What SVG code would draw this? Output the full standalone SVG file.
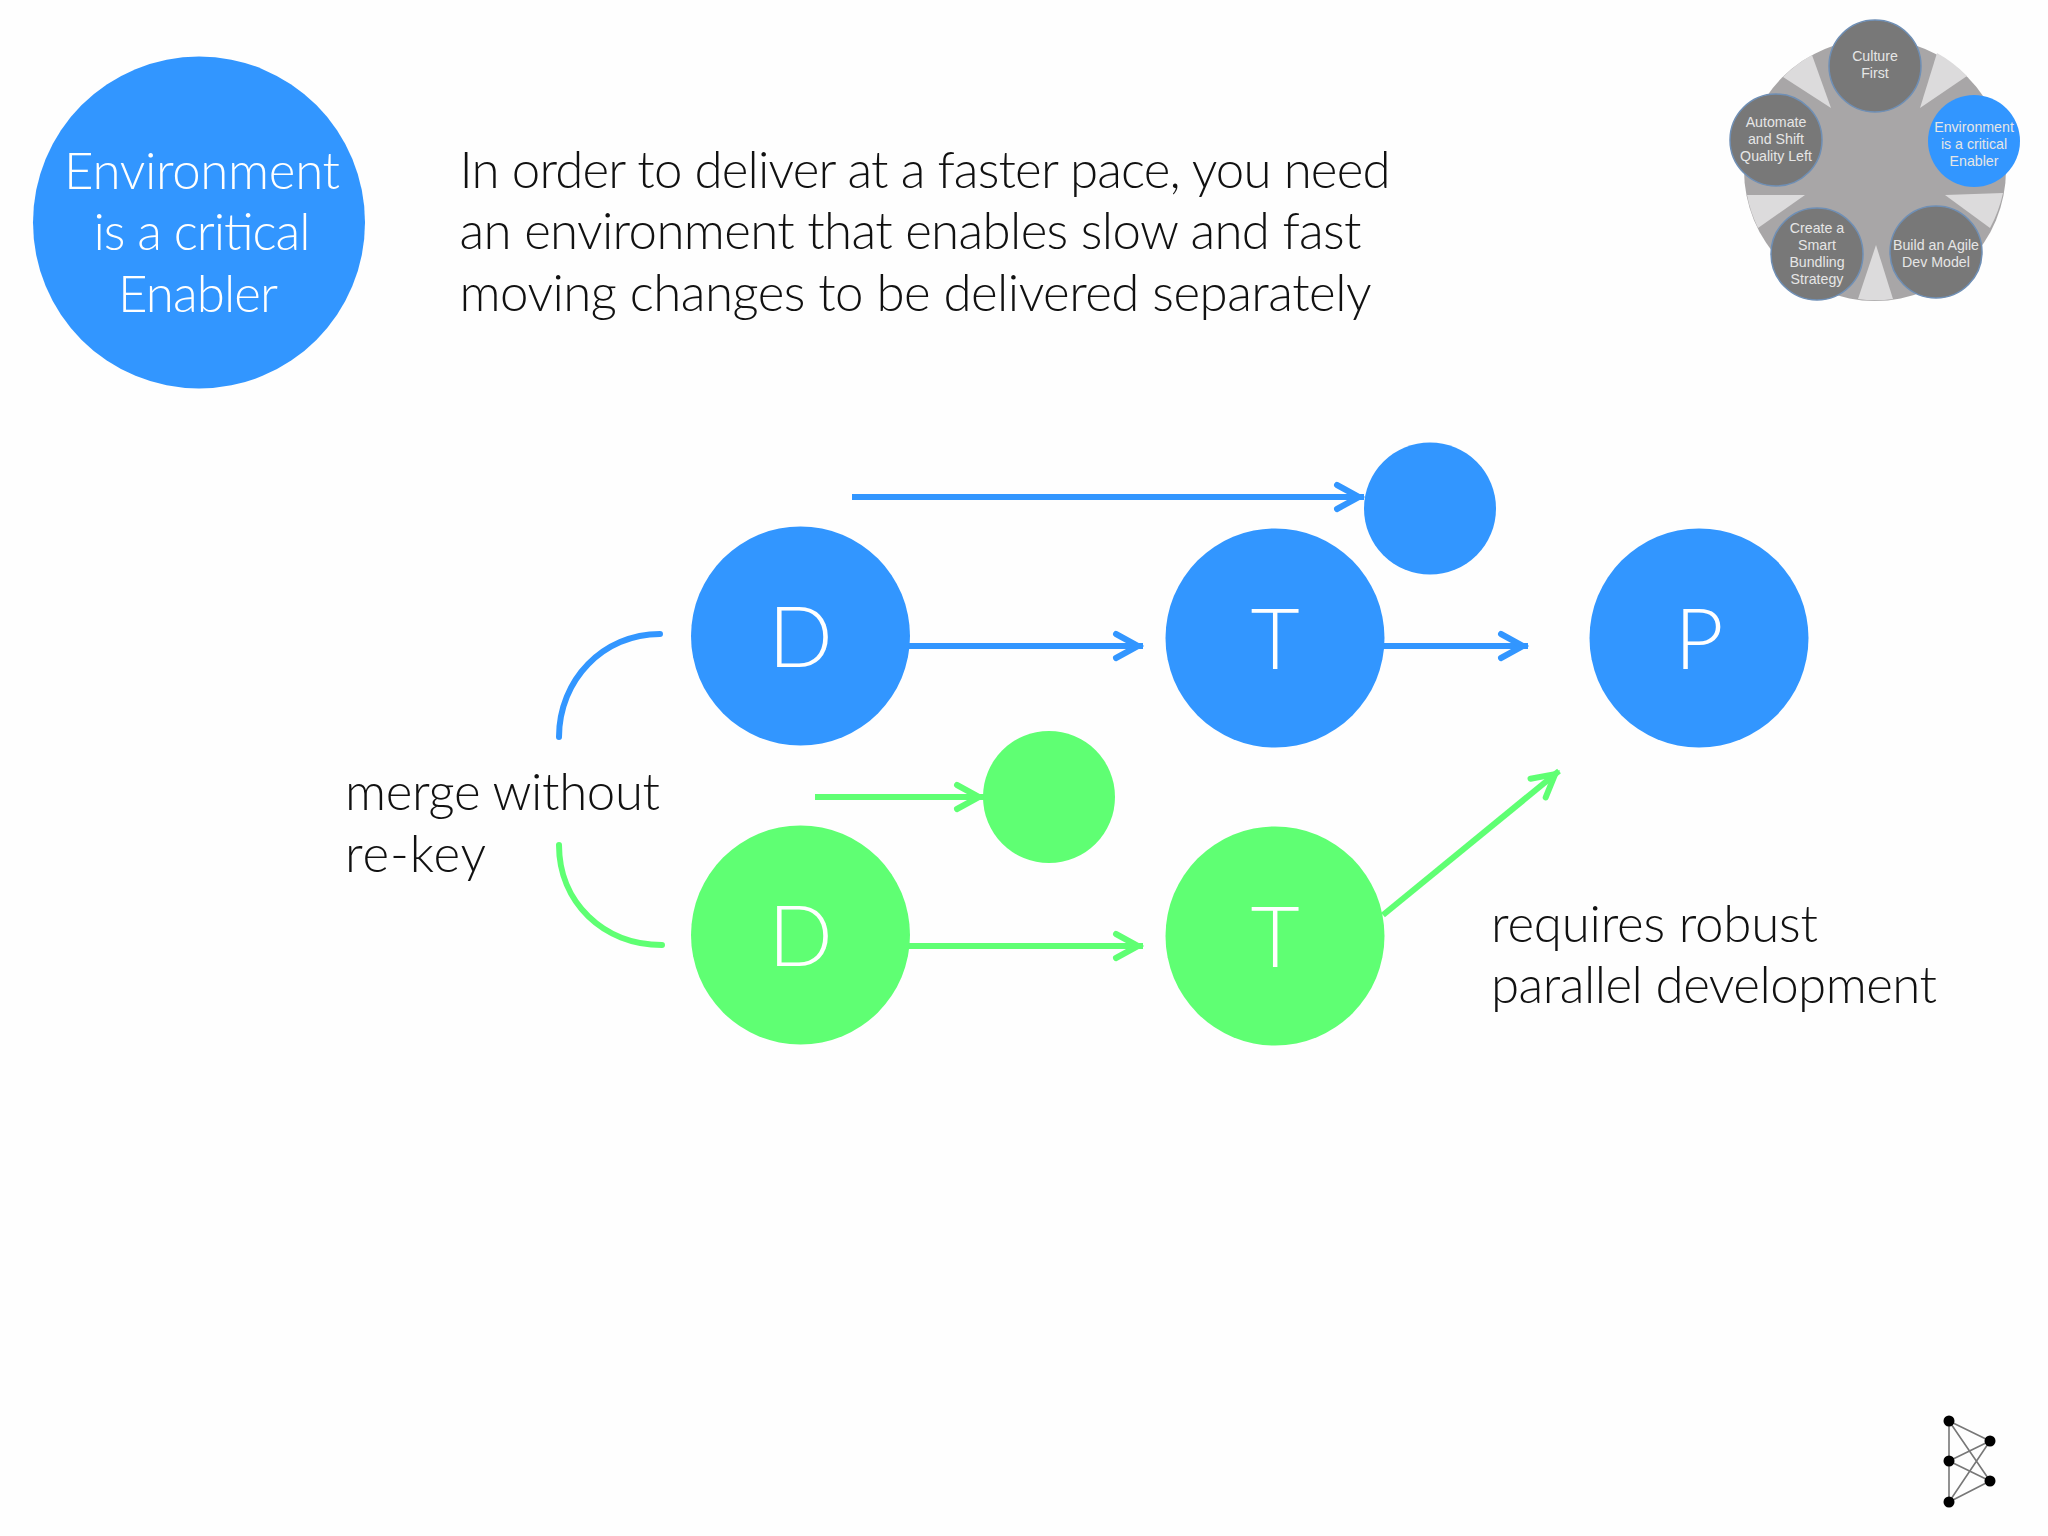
<svg xmlns="http://www.w3.org/2000/svg" width="2048" height="1536" viewBox="0 0 2048 1536">
<defs>
<marker id="ab" markerUnits="userSpaceOnUse" markerWidth="40" markerHeight="34" refX="35" refY="17" orient="auto"><path d="M8 5L30 17L8 29" fill="none" stroke="#3296ff" stroke-width="6" stroke-linecap="round" stroke-linejoin="miter"/></marker>
<marker id="ag" markerUnits="userSpaceOnUse" markerWidth="40" markerHeight="34" refX="35" refY="17" orient="auto"><path d="M8 5L30 17L8 29" fill="none" stroke="#5fff73" stroke-width="6" stroke-linecap="round" stroke-linejoin="miter"/></marker>
</defs>
<style>
.t{font-family:"Lato","Liberation Sans",sans-serif;font-weight:300;font-size:51px;fill:#111}
.w{font-family:"Lato","Liberation Sans",sans-serif;font-weight:300;fill:#fff;text-anchor:middle}
.b{fill:#3296ff}.g{fill:#5fff73}
.lb{fill:none;stroke:#3296ff;stroke-width:6}
.lg{fill:none;stroke:#5fff73;stroke-width:6}
.r{stroke-linecap:round}
.m{font-family:"Liberation Sans",Arial,sans-serif;font-size:14.2px;fill:#e6e6e6;text-anchor:middle}
.mc{fill:#787878;stroke:#6f8fb5;stroke-width:1.5}
.lk{stroke:#777;stroke-width:1.6}
</style>
<rect width="2048" height="1536" fill="#fefefe"/>
<g id="enabler-badge"><circle class="b" cx="199" cy="222.5" r="166"/>
<text class="w" font-size="51" x="202" y="189" textLength="276">Environment</text>
<text class="w" font-size="51" x="202" y="250" textLength="217">is a critical</text>
<text class="w" font-size="51" x="198" y="311.5" textLength="160">Enabler</text></g>
<g id="intro">
<text class="t" x="459.5" y="187.5" textLength="931">In order to deliver at a faster pace, you need</text>
<text class="t" x="459.5" y="249" textLength="902">an environment that enables slow and fast</text>
<text class="t" x="459.5" y="310.5" textLength="912">moving changes to be delivered separately</text></g>
<g id="wheel">
<circle cx="1875" cy="170" r="131" fill="#a8a6a7"/>
<g fill="#dcdbdc"><path d="M1920 108L1937 53A131 131 0 0 1 1967 76Z"/><path d="M1831 108L1783 77A131 131 0 0 1 1812 55Z"/><path d="M1945 195L2003 193A131 131 0 0 1 1990 228Z"/><path d="M1805 195L1758 228A131 131 0 0 1 1747 195Z"/><path d="M1876 245L1893 299A131 131 0 0 1 1858 299Z"/></g>
<circle class="mc" cx="1875" cy="66" r="46"/><circle cx="1974" cy="141" r="46" fill="#3296ff"/><circle class="mc" cx="1936" cy="252" r="46"/><circle class="mc" cx="1817" cy="254" r="46"/><circle class="mc" cx="1776" cy="140" r="46"/>
<text class="m" x="1875" y="61">Culture</text><text class="m" x="1875" y="78">First</text>
<text class="m" x="1974" y="132">Environment</text><text class="m" x="1974" y="149">is a critical</text><text class="m" x="1974" y="166">Enabler</text>
<text class="m" x="1936" y="250">Build an Agile</text><text class="m" x="1936" y="267">Dev Model</text>
<text class="m" x="1817" y="233">Create a</text><text class="m" x="1817" y="250">Smart</text><text class="m" x="1817" y="267">Bundling</text><text class="m" x="1817" y="284">Strategy</text>
<text class="m" x="1776" y="127">Automate</text><text class="m" x="1776" y="144">and Shift</text><text class="m" x="1776" y="161">Quality Left</text>
</g>
<g id="connectors">
<path class="lb" d="M852 497H1364" marker-end="url(#ab)"/>
<path class="lb" d="M909 646H1143" marker-end="url(#ab)"/>
<path class="lb" d="M1383 646H1528" marker-end="url(#ab)"/>
<path class="lg" d="M815 797H984" marker-end="url(#ag)"/>
<path class="lg" d="M909 946H1143" marker-end="url(#ag)"/>
<path class="lg" d="M1383 915L1559 771" marker-end="url(#ag)"/>
<path class="lb r" d="M559 737C559 680 603 634 660 634"/>
<path class="lg r" d="M559 845C559 902 603 945 662 945"/>
</g>
<g id="d-blue"><circle class="b" cx="800.5" cy="636" r="109.5"/><text class="w" font-size="85" x="800.5" y="667">D</text></g>
<g id="t-blue"><circle class="b" cx="1275" cy="638" r="109.5"/><text class="w" font-size="85" x="1275" y="669">T</text></g>
<g id="p-blue"><circle class="b" cx="1699" cy="638" r="109.5"/><text class="w" font-size="85" x="1699" y="669">P</text></g>
<g id="d-green"><circle class="g" cx="800.5" cy="935" r="109.5"/><text class="w" font-size="85" x="800.5" y="966">D</text></g>
<g id="t-green"><circle class="g" cx="1275" cy="936" r="109.5"/><text class="w" font-size="85" x="1275" y="967">T</text></g>
<g id="small-blue"><circle class="b" cx="1430" cy="508.5" r="66"/></g>
<g id="small-green"><circle class="g" cx="1049" cy="797" r="66"/></g>
<g id="label-merge"><text class="t" x="345" y="810" textLength="315">merge without</text><text class="t" x="345" y="871.5" textLength="141">re-key</text></g>
<g id="label-parallel"><text class="t" x="1491" y="942" textLength="327">requires robust</text><text class="t" x="1491" y="1003" textLength="446">parallel development</text></g>
<g id="logo">
<g class="lk"><path d="M1949 1421V1502M1949 1421L1990 1441M1949 1421L1990 1481M1949 1461L1990 1441M1949 1461L1990 1481M1949 1502L1990 1441M1949 1502L1990 1481" fill="none"/></g>
<circle cx="1949" cy="1421" r="5.5"/><circle cx="1990" cy="1441" r="5.5"/><circle cx="1949" cy="1461" r="5.5"/><circle cx="1990" cy="1481" r="5.5"/><circle cx="1949" cy="1502" r="5.5"/>
</g>
</svg>
